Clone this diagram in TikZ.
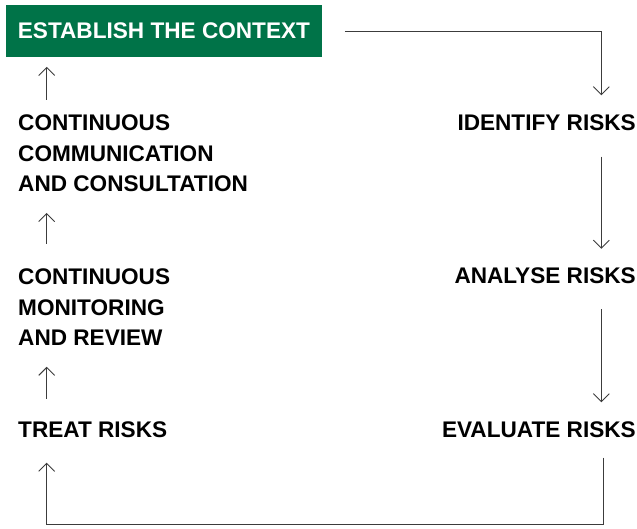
\documentclass[tikz,border=0pt]{standalone}
\usepackage{fontspec}
\setmainfont{Liberation Sans}
\usetikzlibrary{arrows.meta,calc}
\definecolor{isogreen}{RGB}{0,115,72}
\definecolor{linegrey}{RGB}{60,60,60}
\begin{document}
\begin{tikzpicture}[x=1pt,y=-1pt,
  lbl/.style={inner sep=0pt,font=\fontsize{22.6}{30.5}\selectfont\bfseries,text=black},
  leftlbl/.style={lbl,anchor=north west,align=left},
  rightlbl/.style={lbl,anchor=north east,align=right},
  arr/.style={draw=linegrey,line width=1pt,-{Straight Barb[length=8pt,width=16pt,line width=0.9pt]}}]
\useasboundingbox (0,0) rectangle (637,529);
\coordinate (lx) at (46.7,0);
\coordinate (rx) at (601.3,0);
\coordinate (bx) at (603.3,0);
\coordinate (by) at (0,524);
\node[fill=isogreen,text=white,anchor=north west,minimum width=315.5pt,minimum height=51.5pt,inner sep=0pt,
  font=\fontsize{22.6}{26}\selectfont\bfseries] (ctx) at (6,5) {ESTABLISH THE CONTEXT};
\node[rightlbl] (ident) at (636,114.3) {IDENTIFY RISKS};
\node[rightlbl] (anal) at (636,267.8) {ANALYSE RISKS};
\node[rightlbl] (eval) at (636,421.3) {EVALUATE RISKS};
\node[leftlbl] (comm) at (18,114.6) {CONTINUOUS\\COMMUNICATION\\AND CONSULTATION};
\node[leftlbl] (mon) at (18,268.6) {CONTINUOUS\\MONITORING\\AND REVIEW};
\node[leftlbl] (treat) at (18,421.3) {TREAT RISKS};
\draw[arr] ($(ctx.east)+(23,1)$) -| ($(ident.north -| rx)+(0,-19)$);
\draw[arr] ($(ident.south -| rx)+(0,26)$) -- ($(anal.north -| rx)+(0,-19)$);
\draw[arr] ($(anal.south -| rx)+(0,25)$) -- ($(eval.north -| rx)+(0,-19)$);
\draw[arr] ($(eval.south -| bx)+(0,20)$) -- (bx |- by) -- (lx |- by) -- ($(treat.south -| lx)+(0,25)$);
\draw[arr] ($(treat.north -| lx)+(0,-22.7)$) -- ($(mon.south -| lx)+(0,21)$);
\draw[arr] ($(mon.north -| lx)+(0,-25)$) -- ($(comm.south -| lx)+(0,21)$);
\draw[arr] ($(comm.north -| lx)+(0,-15)$) -- ($(ctx.south -| lx)+(0,10)$);
\end{tikzpicture}
\end{document}
